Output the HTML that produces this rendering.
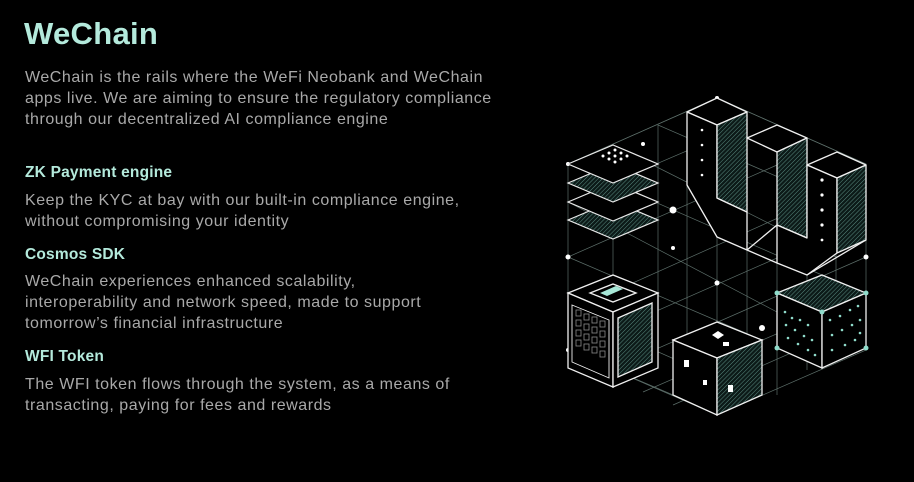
<!DOCTYPE html>
<html><head><meta charset="utf-8"><style>
html,body{margin:0;padding:0;background:#000;width:914px;height:482px;overflow:hidden}
body{font-family:"Liberation Sans",sans-serif;position:relative}
.t{position:absolute;left:25px;white-space:nowrap}
h1{position:absolute;left:24px;top:16px;margin:0;font-size:31px;font-weight:bold;color:#b4eadc;letter-spacing:0.3px}
.p{color:#a9a9a9;font-size:16px;line-height:21px;letter-spacing:0.55px}
.h{color:#b4eadc;font-size:15.5px;font-weight:bold;letter-spacing:0.2px}
svg{position:absolute;left:0;top:0}
</style></head><body>
<h1>WeChain</h1>
<div class="t p" style="top:67px">WeChain is the rails where the WeFi Neobank and WeChain<br>apps live. We are aiming to ensure the regulatory compliance<br>through our decentralized AI compliance engine</div>
<div class="t h" style="top:164px">ZK Payment engine</div>
<div class="t p" style="top:190px">Keep the KYC at bay with our built-in compliance engine,<br>without compromising your identity</div>
<div class="t h" style="top:246px">Cosmos SDK</div>
<div class="t p" style="top:271px">WeChain experiences enhanced scalability,<br>interoperability and network speed, made to support<br>tomorrow’s financial infrastructure</div>
<div class="t h" style="top:348px">WFI Token</div>
<div class="t p" style="top:374px">The WFI token flows through the system, as a means of<br>transacting, paying for fees and rewards</div>

<svg width="914" height="482" viewBox="0 0 914 482">
<defs>
<pattern id="hp" width="3" height="3" patternUnits="userSpaceOnUse" patternTransform="rotate(45)">
<rect width="3" height="3" fill="#0c1a18"/><line x1="0" y1="0" x2="0" y2="3" stroke="#5a8a80" stroke-width="1"/></pattern>
</defs>
<g stroke="#5c6e69" stroke-width="0.7" fill="none">
<path d="M717 98 L866 164 L866 350 L717 415 L568 350 L568 164 Z"/>
<path d="M568 164 L717 98 M568 202 L747 125 M568 257 L777 165 M568 312 L807 205 M568 350 L836 232 M613 368 L866 257 M643 392 L866 295 M673 405 L866 320"/>
<path d="M717 98 L866 164 M658 125 L866 215 M613 145 L836 257 M568 164 L822 275 M568 202 L777 312 M568 257 L762 340 M568 312 L717 378 M568 350 L673 395"/>
<path d="M613 145 L613 387 M658 125 L658 368 M687 112 L687 398 M717 125 L717 415 M747 112 L747 398 M777 125 L777 395 M807 138 L807 370 M836 152 L836 350"/>
</g>
<g fill="#fff">
<circle cx="568" cy="164" r="2"/><circle cx="568" cy="257" r="2.5"/><circle cx="568" cy="350" r="2"/>
<circle cx="866" cy="257" r="2.5"/><circle cx="673" cy="210" r="3.5"/><circle cx="673" cy="248" r="2"/>
<circle cx="717" cy="283" r="2.5"/><circle cx="762" cy="328" r="3"/><circle cx="643" cy="144" r="2"/>
<circle cx="717" cy="98" r="2"/><circle cx="613" cy="368" r="2"/>
</g>
<g stroke="#e8e8e8" stroke-width="1.2">
<path d="M568 220 L613 201 L658 220 L613 239 Z" fill="url(#hp)"/>
<path d="M568 202 L613 183 L658 202 L613 221 Z" fill="#000"/>
<path d="M568 183 L613 164 L658 183 L613 202 Z" fill="url(#hp)"/>
<path d="M568 164 L613 145 L658 164 L613 183 Z" fill="#000"/>
</g>
<g fill="#fff"><circle cx="603" cy="156" r="1.5"/><circle cx="609" cy="153" r="1.5"/><circle cx="615" cy="150" r="1.5"/><circle cx="609" cy="159" r="1.5"/><circle cx="615" cy="156" r="1.5"/><circle cx="621" cy="153" r="1.5"/><circle cx="615" cy="162" r="1.5"/><circle cx="621" cy="159" r="1.5"/><circle cx="627" cy="156" r="1.5"/></g>
<g stroke="#f0f0f0" stroke-width="1.3" stroke-linejoin="round">
<path d="M687 112 L717 98 L747 112 L717 125 Z" fill="#000"/>
<path d="M687 112 L717 125 L717 198 L747 212 L747 250 L717 237 L687 185 Z" fill="#000"/>
<path d="M717 125 L747 112 L747 212 L717 198 Z" fill="url(#hp)"/>
<path d="M747 138 L777 125 L807 138 L777 152 Z" fill="#000"/>
<path d="M777 152 L807 138 L807 238 L777 225 Z" fill="url(#hp)"/>
<path d="M747 250 L777 225 L807 238 L777 263 Z" fill="none"/>
<path d="M807 165 L837 152 L866 165 L837 178 Z" fill="#000"/>
<path d="M807 165 L837 178 L837 253 L807 275 L777 263 L777 225 L807 238 Z" fill="#000"/>
<path d="M837 178 L866 165 L866 240 L837 253 Z" fill="url(#hp)"/>
<path d="M807 275 L866 240"/>
</g>
<g fill="#fff"><circle cx="702" cy="130" r="1.3"/><circle cx="702" cy="145" r="1.3"/><circle cx="702" cy="160" r="1.3"/><circle cx="702" cy="175" r="1.3"/><circle cx="822" cy="180" r="1.6"/><circle cx="822" cy="195" r="1.6"/><circle cx="822" cy="210" r="1.6"/><circle cx="822" cy="225" r="1.6"/><circle cx="822" cy="240" r="1.4"/></g>
<g stroke="#f0f0f0" stroke-width="1.3">
<path d="M568 293 L613 275 L658 293 L613 312 Z" fill="#000"/>
<path d="M568 293 L613 312 L613 387 L568 368 Z" fill="#000"/>
<path d="M613 312 L658 293 L658 368 L613 387 Z" fill="#000"/>
<path d="M618 318 L652 303 L652 362 L618 377 Z" fill="url(#hp)"/>
<path d="M590 293 L613 284 L636 293 L613 302 Z" fill="none"/>
<path d="M572 305 L609 320 L609 378 L572 362 Z" fill="none" stroke-width="0.9"/>
</g>
<path d="M600 293 L616 286 L623 289 L607 296 Z" fill="#a8e8d8"/>
<g stroke="#8a8a8a" stroke-width="0.8" fill="none">
<rect x="576" y="310" width="5" height="6"/><rect x="584" y="314" width="5" height="6"/><rect x="592" y="317" width="5" height="6"/><rect x="600" y="321" width="5" height="6"/>
<rect x="576" y="320" width="5" height="6"/><rect x="584" y="324" width="5" height="6"/><rect x="592" y="327" width="5" height="6"/><rect x="600" y="331" width="5" height="6"/>
<rect x="576" y="330" width="5" height="6"/><rect x="584" y="334" width="5" height="6"/><rect x="592" y="337" width="5" height="6"/><rect x="600" y="341" width="5" height="6"/>
<rect x="576" y="340" width="5" height="6"/><rect x="584" y="344" width="5" height="6"/><rect x="592" y="347" width="5" height="6"/><rect x="600" y="351" width="5" height="6"/>
</g>
<g stroke="#f0f0f0" stroke-width="1.3">
<path d="M673 340 L717 322 L762 340 L717 358 Z" fill="#000"/>
<path d="M673 340 L717 358 L717 415 L673 395 Z" fill="#000"/>
<path d="M717 358 L762 340 L762 395 L717 415 Z" fill="url(#hp)"/>
</g>
<g fill="#fff"><path d="M712 335 L718 331 L724 335 L718 339 Z"/><rect x="723" y="342" width="6" height="4"/><rect x="684" y="360" width="5" height="7"/><rect x="728" y="385" width="5" height="7"/><rect x="703" y="380" width="4" height="5"/></g>
<g stroke="#f0f0f0" stroke-width="1.3">
<path d="M777 293 L822 275 L866 293 L822 312 Z" fill="url(#hp)"/>
<path d="M777 293 L822 312 L822 368 L777 348 Z" fill="#000"/>
<path d="M822 312 L866 293 L866 348 L822 368 Z" fill="#000"/>
</g>
<g fill="#8fdccb">
<circle cx="785" cy="312" r="1.3"/><circle cx="792" cy="318" r="1.3"/><circle cx="800" cy="320" r="1.3"/><circle cx="808" cy="325" r="1.3"/><circle cx="786" cy="325" r="1.3"/><circle cx="795" cy="330" r="1.3"/><circle cx="804" cy="336" r="1.3"/><circle cx="812" cy="340" r="1.3"/><circle cx="788" cy="338" r="1.3"/><circle cx="798" cy="344" r="1.3"/><circle cx="808" cy="350" r="1.3"/><circle cx="815" cy="355" r="1.3"/>
<circle cx="830" cy="320" r="1.3"/><circle cx="840" cy="316" r="1.3"/><circle cx="850" cy="310" r="1.3"/><circle cx="858" cy="306" r="1.3"/><circle cx="832" cy="335" r="1.3"/><circle cx="842" cy="330" r="1.3"/><circle cx="852" cy="325" r="1.3"/><circle cx="860" cy="320" r="1.3"/><circle cx="832" cy="350" r="1.3"/><circle cx="845" cy="345" r="1.3"/><circle cx="855" cy="340" r="1.3"/><circle cx="860" cy="333" r="1.3"/>
<circle cx="777" cy="293" r="2.5"/><circle cx="866" cy="293" r="2.5"/><circle cx="822" cy="312" r="2.5"/><circle cx="777" cy="348" r="2.5"/><circle cx="866" cy="348" r="2.5"/>
</g>
</svg>
</body></html>
